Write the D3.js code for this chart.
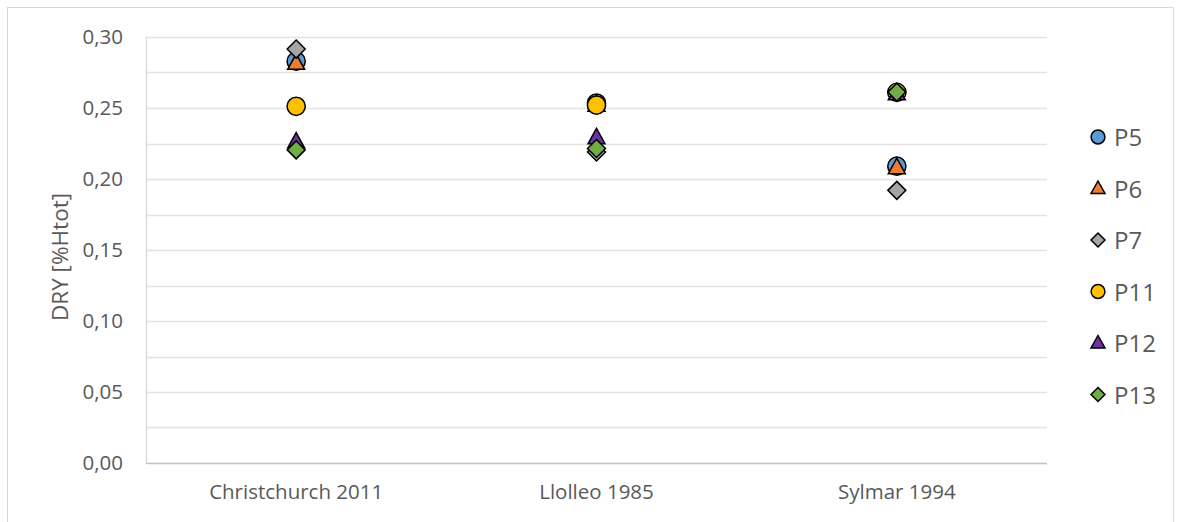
<!DOCTYPE html>
<html><head><meta charset="utf-8">
<script src="https://cdn.jsdelivr.net/npm/d3@7"></script>
<style>body{margin:0;background:#fff}svg{display:block}text{font-family:"Open Sans",Lato,sans-serif;fill:#595959}</style>
</head><body><svg id="c" width="1181" height="522"></svg>
<script>
const categories = ["Christchurch 2011", "Llolleo 1985", "Sylmar 1994"];
const seriesNames = ["P5", "P6", "P7", "P11", "P12", "P13"];
const P5  = [0.283, 0.2535, 0.209];
const P6  = [0.2815, 0.252, 0.208];
const P7  = [0.2915, 0.219, 0.192];
const P11 = [0.2512, 0.252, 0.261];
const P12 = [0.226, 0.229, 0.260];
const P13 = [0.2205, 0.2215, 0.2612];
const yTicks = [0, 0.05, 0.10, 0.15, 0.20, 0.25, 0.30];
const seriesValues = [P5, P6, P7, P11, P12, P13];
const colors = ["#5B9BD5", "#ED7D31", "#A5A5A5", "#FFC000", "#7030A0", "#70AD47"];
const shapes = ["circle", "triangle", "diamond", "circle", "triangle", "diamond"];

const svg = d3.select("#c");
svg.append("rect").attr("x", 7.5).attr("y", 7.5).attr("width", 1166).attr("height", 530)
  .attr("fill", "none").attr("stroke", "#D9D9D9");

const L = 146, R = 1047, T = 37, B = 463;
const x = d3.scaleBand().domain(categories).range([L, R]);
const y = d3.scaleLinear().domain([0, 0.30]).range([B, T]);

const g = svg.append("g");
const grid = d3.range(0, 0.3001, 0.025);
g.selectAll("line.grid").data(grid).enter().append("line")
  .attr("x1", L).attr("x2", R).attr("y1", d => Math.round(y(d)) + 0.5).attr("y2", d => Math.round(y(d)) + 0.5)
  .attr("stroke", d => d === 0 ? "#BFBFBF" : "#E3E3E3").attr("stroke-width", 1.3);
g.append("line").attr("x1", L + 0.5).attr("x2", L + 0.5).attr("y1", T).attr("y2", B)
  .attr("stroke", "#D9D9D9").attr("stroke-width", 1.3);

const yAxis = d3.axisLeft(y).tickValues(yTicks).tickSize(0).tickPadding(23)
  .tickFormat(d => d3.format(".2f")(d).replace(".", ","));
const ya = svg.append("g").attr("transform", `translate(${L},0)`).call(yAxis);
ya.select(".domain").remove();
ya.selectAll("text").style("font-size", "20.5px").style("font-family", "'Open Sans'").attr("fill", "#595959");

const xAxis = d3.axisBottom(x).tickSize(0).tickPadding(21);
const xa = svg.append("g").attr("transform", `translate(0,${B})`).call(xAxis);
xa.select(".domain").remove();
xa.selectAll("text").style("font-size", "20.5px").style("font-family", "'Open Sans'").attr("fill", "#595959");

svg.append("text").attr("transform", `translate(68,${257}) rotate(-90)`)
  .attr("text-anchor", "middle").style("font-size", "22.5px").text("DRY [%Htot]");

function symbolPath(shape) {
  if (shape === "circle") return d3.symbol(d3.symbolCircle, 260)();
  if (shape === "triangle") return "M0,-9.5L8.5,6L-8.5,6Z";
  return "M0,-9L9,0L0,9L-9,0Z";
}

seriesValues.forEach((vals, i) => {
  svg.append("g").selectAll("path").data(vals).enter().append("path")
    .attr("d", symbolPath(shapes[i]))
    .attr("transform", (d, j) => `translate(${x(categories[j]) + x.bandwidth() / 2},${y(d)})`)
    .attr("fill", colors[i]).attr("stroke", "#000").attr("stroke-width", 1.5);
});

const lg = svg.append("g");
seriesNames.forEach((n, i) => {
  const yy = 137 + i * 51.5;
  const s = shapes[i];
  let p = s === "circle" ? d3.symbol(d3.symbolCircle, 150)() : s === "triangle" ? "M0,-7.5L7,5L-7,5Z" : "M0,-7L7,0L0,7L-7,0Z";
  lg.append("path").attr("d", p).attr("transform", `translate(1098,${yy})`)
    .attr("fill", colors[i]).attr("stroke", "#000").attr("stroke-width", 1.5);
  lg.append("text").attr("x", 1114).attr("y", yy + 9).style("font-size", "24px").text(n);
});
</script></body></html>
